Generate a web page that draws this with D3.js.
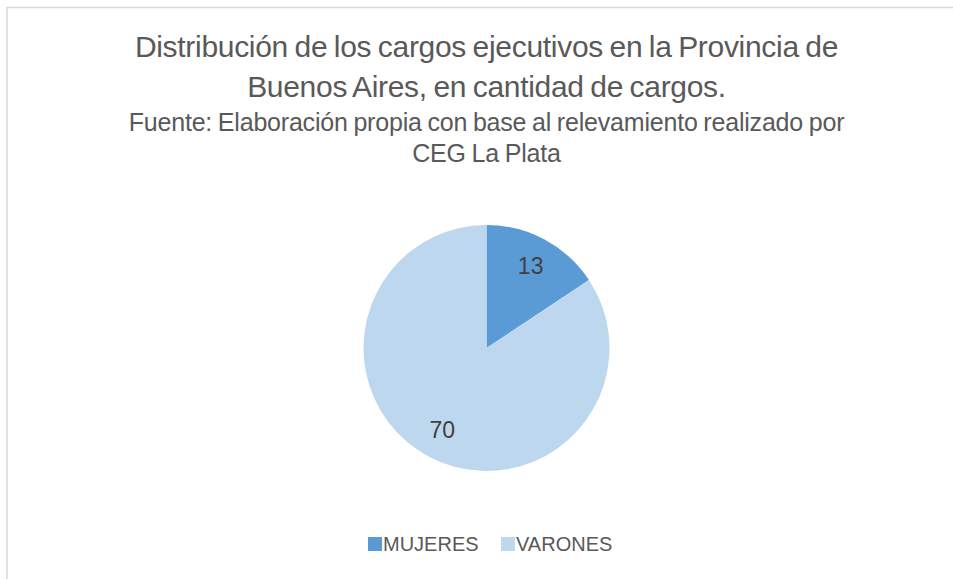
<!DOCTYPE html>
<html>
<head>
<meta charset="utf-8">
<script src="https://cdn.jsdelivr.net/npm/d3@7"></script>
<style>
  body { margin: 0; background: #fff; }
  svg text { font-family: "Liberation Sans", Arial, sans-serif; }
</style>
</head>
<body>
<div id="chart"></div>
<script>
const categories = ["MUJERES", "VARONES"];
const values = [13, 70];
const colors = ["#5b9bd5", "#bdd7ee"];
const titleLines = [
    "Distribución de los cargos ejecutivos en la Provincia de",
    "Buenos Aires, en cantidad de cargos."
];
const subtitleLines = [
    "Fuente: Elaboración propia con base al relevamiento realizado por",
    "CEG La Plata"
];

const width = 953, height = 579;
const cx = 486.5, cy = 348, radius = 123;

const svg = d3.select("#chart")
    .append("svg")
    .attr("width", width)
    .attr("height", height);

// marco del gráfico
svg.append("rect")
    .attr("x", 7)
    .attr("y", 7.5)
    .attr("width", 960)
    .attr("height", 600)
    .attr("fill", "#fff")
    .attr("stroke", "#d9d9d9")
    .attr("stroke-width", 1.5);

svg.selectAll(".title")
    .data(titleLines)
    .enter()
    .append("text")
    .attr("class", "title")
    .attr("x", cx)
    .attr("y", (d, i) => 57 + i * 40)
    .attr("text-anchor", "middle")
    .attr("fill", "#595959")
    .style("font-size", "30px")
    .style("letter-spacing", "-0.3px")
    .style("word-spacing", "-1.5px")
    .text(d => d);

svg.selectAll(".subtitle")
    .data(subtitleLines)
    .enter()
    .append("text")
    .attr("class", "subtitle")
    .attr("x", cx)
    .attr("y", (d, i) => 131 + i * 31)
    .attr("text-anchor", "middle")
    .attr("fill", "#595959")
    .style("font-size", "25px")
    .style("letter-spacing", "-0.2px")
    .style("word-spacing", "-1px")
    .text(d => d);

const data = categories.map((c, i) => ({ name: c, value: values[i], color: colors[i] }));

const pie = d3.pie().sort(null).value(d => d.value);
const arc = d3.arc().innerRadius(0).outerRadius(radius);
const labelArc = d3.arc().innerRadius(radius * 0.76).outerRadius(radius * 0.76);

const g = svg.append("g").attr("transform", `translate(${cx},${cy})`);

const arcs = pie(data);

g.selectAll("path")
    .data(arcs)
    .enter()
    .append("path")
    .attr("d", arc)
    .attr("fill", d => d.data.color);

g.selectAll(".label")
    .data(arcs)
    .enter()
    .append("text")
    .attr("class", "label")
    .attr("transform", d => `translate(${labelArc.centroid(d)})`)
    .attr("text-anchor", "middle")
    .attr("dy", "0.35em")
    .attr("fill", "#404040")
    .style("font-size", "23px")
    .text(d => d.data.value);

// leyenda
const legendX = [368, 501];
const legend = svg.selectAll(".legend")
    .data(data)
    .enter()
    .append("g")
    .attr("class", "legend")
    .attr("transform", (d, i) => `translate(${legendX[i]},537)`);

legend.append("rect")
    .attr("width", 14)
    .attr("height", 14)
    .attr("fill", d => d.color);

legend.append("text")
    .attr("x", 15)
    .attr("y", 14)
    .attr("fill", "#595959")
    .style("font-size", "20px")
    .text(d => d.name);
</script>
</body>
</html>
